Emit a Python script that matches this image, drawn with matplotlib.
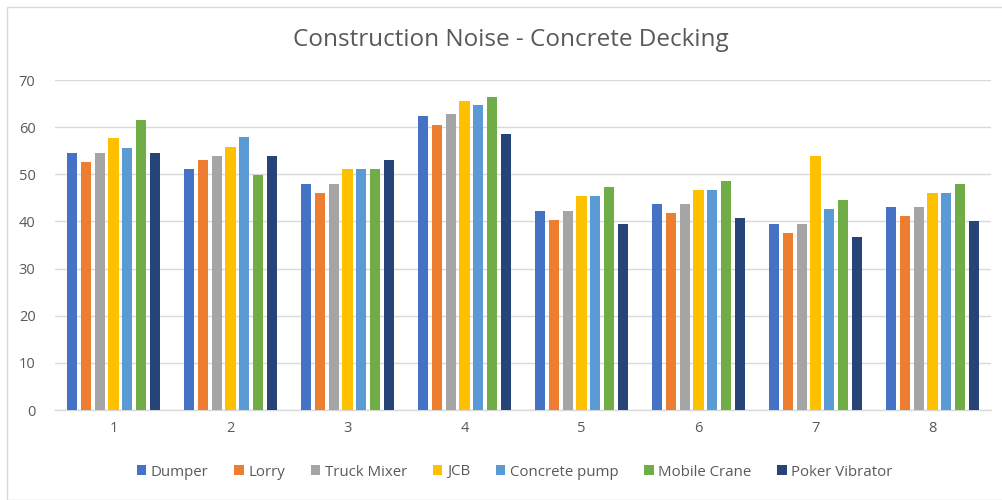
import matplotlib
matplotlib.use("Agg")
import matplotlib.pyplot as plt
import numpy as np
from matplotlib.patches import Rectangle

categories = ["1", "2", "3", "4", "5", "6", "7", "8"]
dumper = [54.5, 51.1, 48.0, 62.3, 42.3, 43.6, 39.5, 43.0]
lorry = [52.6, 53.0, 46.1, 60.4, 40.4, 41.7, 37.6, 41.1]
truck_mixer = [54.5, 53.9, 48.0, 62.7, 42.3, 43.6, 39.5, 43.0]
jcb = [57.7, 55.8, 51.1, 65.5, 45.4, 46.7, 53.9, 46.1]
concrete_pump = [55.5, 58.0, 51.1, 64.6, 45.4, 46.7, 42.6, 46.1]
mobile_crane = [61.5, 49.8, 51.1, 66.4, 47.4, 48.6, 44.5, 48.0]
poker_vibrator = [54.5, 53.9, 53.0, 58.6, 39.5, 40.8, 36.7, 40.1]

series_names = ["Dumper", "Lorry", "Truck Mixer", "JCB", "Concrete pump",
                "Mobile Crane", "Poker Vibrator"]
series = [dumper, lorry, truck_mixer, jcb, concrete_pump, mobile_crane, poker_vibrator]
colors = ["#4472C4", "#ED7D31", "#A5A5A5", "#FFC000", "#5B9BD5", "#70AD47", "#264478"]

plt.rcParams['font.family'] = ['Open Sans', 'DejaVu Sans']
text_color = "#595959"
grid_color = "#D9D9D9"

fig = plt.figure(figsize=(10.03, 5.0), dpi=100)
ax = fig.add_axes([55/1003, 1 - 410/500, (991 - 55)/1003, (410 - 80)/500])

x = np.arange(len(categories))
slot = 0.117
width = 0.086
n = len(series)
for i, (name, vals, c) in enumerate(zip(series_names, series, colors)):
    offs = (i - (n - 1) / 2) * slot
    ax.bar(x + offs, vals, width=width, color=c, label=name, zorder=3)

ax.set_xlim(-0.5, len(categories) - 0.5)
ax.set_ylim(0, 70)
ax.set_yticks(range(0, 71, 10))
ax.set_xticks(x)
ax.set_xticklabels(categories)
ax.grid(axis='y', color=grid_color, linewidth=1.0, zorder=0)
for s in ["top", "right", "left"]:
    ax.spines[s].set_visible(False)
ax.spines["bottom"].set_color(grid_color)
ax.spines["bottom"].set_linewidth(1.0)
ax.tick_params(axis='both', length=0, colors=text_color, labelsize=10.5)
ax.tick_params(axis='y', pad=14)
ax.tick_params(axis='x', pad=8)

fig.text(0.509, 1 - 40/500, "Construction Noise - Concrete Decking",
         ha='center', va='center', fontsize=17.5, color=text_color)

handles, labels = ax.get_legend_handles_labels()
leg = fig.legend(handles, labels, loc='center', bbox_to_anchor=(0.513, 1 - 472/500),
                 ncol=7, frameon=False, fontsize=10.8, handlelength=0.65, handleheight=0.65,
                 handletextpad=0.3, columnspacing=1.7)
for t in leg.get_texts():
    t.set_color(text_color)

fig.patches.append(Rectangle((7/1003, 0), 1.0, 1 - 6.5/500,
                             transform=fig.transFigure, fill=False,
                             edgecolor=grid_color, linewidth=1.0))

fig.savefig("out.png", dpi=100)
